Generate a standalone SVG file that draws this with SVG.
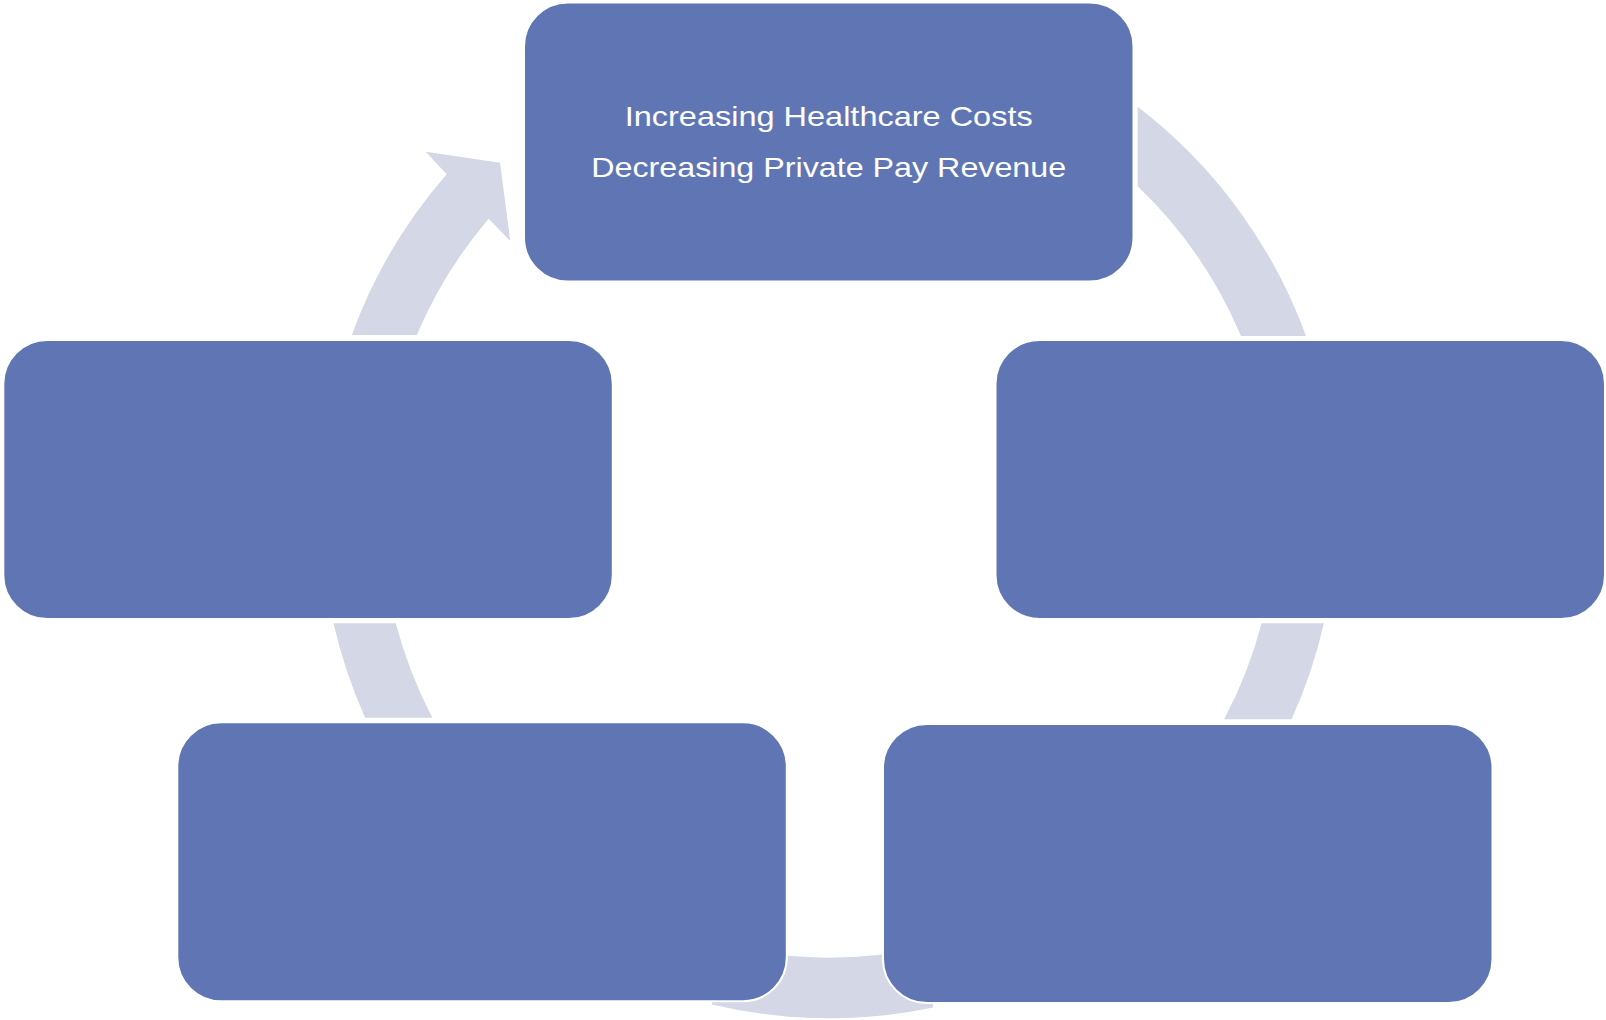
<svg xmlns="http://www.w3.org/2000/svg" width="1606" height="1020" viewBox="0 0 1606 1020">
<style>
.arc{fill:#D3D7E6;stroke:none}
.box{fill:#6076B4;stroke:#FFFFFF;stroke-width:2}
.lbl{fill:#FFFFFF;font-family:"Liberation Sans","DejaVu Sans",sans-serif;font-size:28px;text-anchor:middle}
</style>
<rect width="1606" height="1020" fill="#FFFFFF"/>
<g id="connectors">
<path class="arc" d="M1137.7,106.8 A508,508 0 0,1 1306,336 L1241,336 A447.5,447.5 0 0,0 1137.7,186.3 Z"/>
<path class="arc" d="M1323.9,623.3 A508,508 0 0,1 1291.6,719.3 L1224.2,719.3 A447.5,447.5 0 0,0 1261.6,623.3 Z"/>
<path class="arc" d="M933,1007.4 A508,508 0 0,1 712,1004.4 L712,941.9 A447.5,447.5 0 0,0 933,945.2 Z"/>
<path class="arc" d="M333.5,623.3 L395.8,623.3 A447.5,447.5 0 0,0 432.3,717.7 L365.1,717.7 A508,508 0 0,1 333.5,623.3 Z"/>
<path class="arc" d="M351.8,335 A508,508 0 0,1 446.7,174.3 L425.7,151.7 L500,162.7 L510.3,241 L488.7,218.7 A447.5,447.5 0 0,0 416.8,335 Z"/>
</g>
<g id="node-top">
<rect class="box" x="524" y="2.5" width="609.5" height="279" rx="44" ry="44"/>
<text class="lbl" x="828.7" y="126" textLength="408" lengthAdjust="spacingAndGlyphs">Increasing Healthcare Costs</text>
<text class="lbl" x="828.7" y="176.5" textLength="475" lengthAdjust="spacingAndGlyphs">Decreasing Private Pay Revenue</text>
</g>
<g id="node-right">
<rect class="box" x="995.5" y="340" width="609.5" height="279" rx="44" ry="44"/>
</g>
<g id="node-bottom-right">
<rect class="box" x="883" y="724" width="609.5" height="279" rx="44" ry="44"/>
</g>
<g id="node-bottom-left">
<rect class="box" x="177.3" y="722.3" width="609.5" height="279" rx="44" ry="44"/>
</g>
<g id="node-left">
<rect class="box" x="3.3" y="340" width="609.5" height="279" rx="44" ry="44"/>
</g>
</svg>
